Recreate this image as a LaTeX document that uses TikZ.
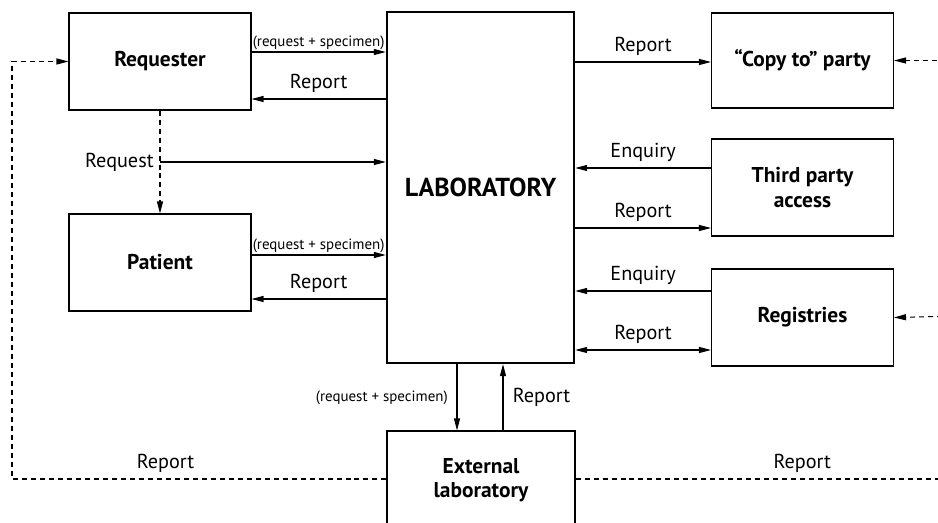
\documentclass[tikz,border=0pt]{standalone}
\usepackage{fontspec}
\setmainfont{PT Sans}
\usetikzlibrary{arrows.meta}
\tikzset{
  box/.style={draw, line width=0.6pt, minimum width=3.64cm, minimum height=1.94cm, align=center, font=\bfseries\fontsize{12.2}{14}\selectfont},
  arr/.style={-{Triangle[length=2.4mm,width=1.2mm]}, line width=0.6pt},
  dblarr/.style={{Triangle[length=2.4mm,width=1.2mm]}-{Triangle[length=2.4mm,width=1.2mm]}, line width=0.6pt},
  dline/.style={line width=0.6pt, dash pattern=on 1mm off 0.8mm},
  darr/.style={arr, dline},
  lbl/.style={font=\fontsize{11.5}{13.5}\selectfont},
  sml/.style={font=\fontsize{8.5}{10}\selectfont, inner sep=1pt},
}
\begin{document}
\begin{tikzpicture}[x=0.02cm,y=-0.02cm]
\useasboundingbox (0,0) rectangle (938,523);
\clip (0,0) rectangle (938,523);
\node[box] (req) at (160,61.5) {Requester};
\node[box] (pat) at (160,262.5) {Patient};
\node[box, minimum width=3.74cm, minimum height=7.02cm, line width=1.4pt, font=\bfseries\fontsize{14.8}{17}\selectfont] (lab) at (480.5,187.5) {LABORATORY};
\node[box, minimum height=1.9cm] (copy) at (802.5,60.5) {“Copy to” party};
\node[box] (third) at (802.5,187.5) {Third party\\access};
\node[box] (reg) at (802.5,317.5) {Registries};
\node[box, minimum width=3.76cm, minimum height=1.96cm] (ext) at (481,480) {External\\laboratory};
\coordinate (rbus) at (960,316);
\draw[arr] (req.east |- 0,52) -- (lab.west |- 0,52) node[sml, midway, above] (rs1) {(request + specimen)};
\draw[arr] (lab.west |- 0,99) -- (req.east |- 0,99) node[lbl, midway, above] (rp1) {Report};
\draw[darr] (req.south) -- (pat.north);
\draw[arr] (req.south |- 0,162) node[lbl, left] (rq) {Request} -- (lab.west |- 0,162);
\draw[arr] (pat.east |- 0,255) -- (lab.west |- 0,255) node[sml, midway, above] (rs2) {(request + specimen)};
\draw[arr] (lab.west |- 0,299) -- (pat.east |- 0,299) node[lbl, midway, above] (rp2) {Report};
\draw[arr] (lab.east |- 0,62) -- (copy.west |- 0,62) node[lbl, midway, above] (rp3) {Report};
\draw[arr] (third.west |- 0,168) -- (lab.east |- 0,168) node[lbl, midway, above] (en1) {Enquiry};
\draw[arr] (lab.east |- 0,228) -- (third.west |- 0,228) node[lbl, midway, above] (rp4) {Report};
\draw[arr] (reg.west |- 0,291) -- (lab.east |- 0,291) node[lbl, midway, above] (en2) {Enquiry};
\draw[dblarr] (lab.east |- 0,350) -- (reg.west |- 0,350) node[lbl, midway, above] (rp5) {Report};
\draw[arr] (lab.south -| 457,0) -- (ext.north -| 457,0) node[sml, midway, left, xshift=-4pt] (rs3) {(request + specimen)};
\draw[arr] (ext.north -| 503,0) -- (lab.south -| 503,0) node[lbl, midway, right, xshift=2pt] (rp6) {Report};
\draw[darr] (ext.west |- 0,479) -- (12,479) node[lbl, pos=0.59, above] (rp7) {Report} |- (req.west);
\draw[dline] (ext.east |- 0,479) -- (rbus |- 0,479) node[lbl, pos=0.59, above] (rp8) {Report} -- (rbus);
\draw[darr] (rbus) |- (copy.east);
\draw[darr] (rbus) -- (reg.east);
\end{tikzpicture}
\end{document}
